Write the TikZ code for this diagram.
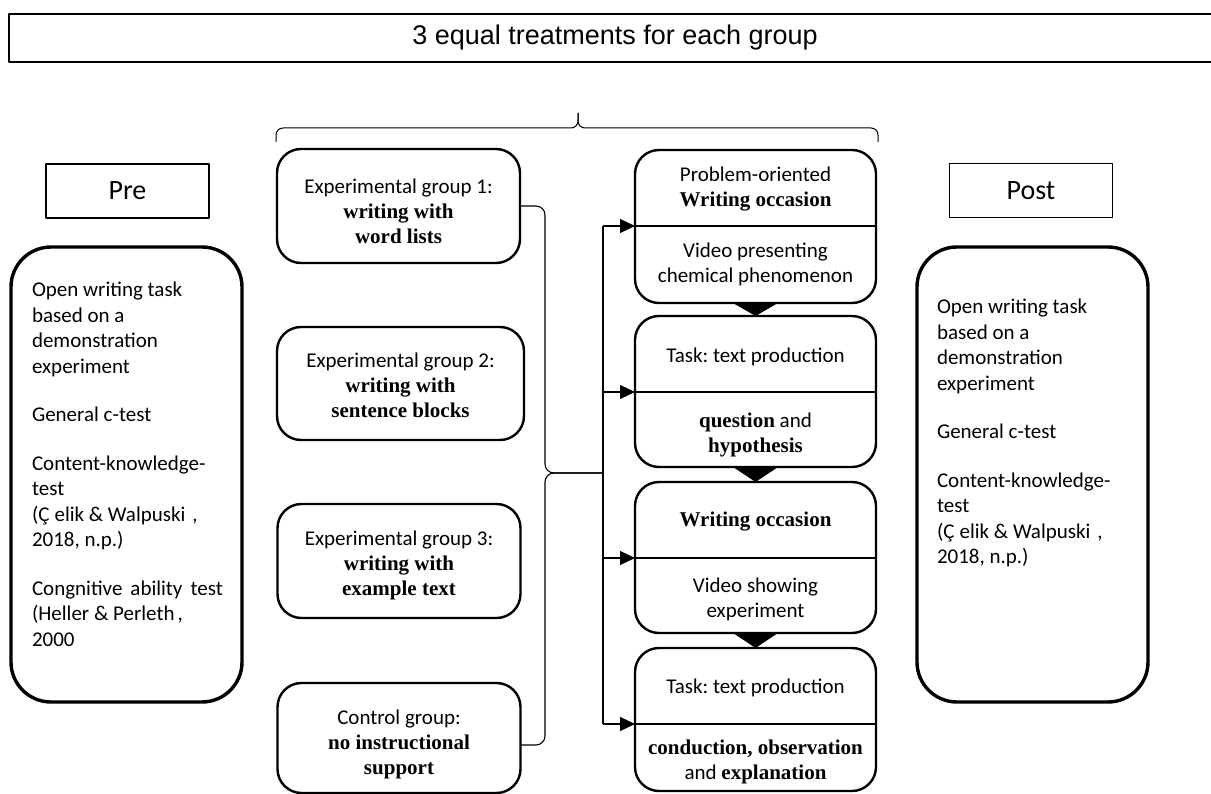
\documentclass[tikz,border=0pt]{standalone}
\usepackage{fontspec}
\setmainfont{Carlito}
\newfontfamily\tnr{Liberation Serif}
\newfontfamily\arialf{Liberation Sans}
\usetikzlibrary{arrows.meta}
\newcommand\bt[1]{{\tnr\bfseries #1}}
\frenchspacing

\begin{document}
\begin{tikzpicture}[x=1pt,y=-1pt, line join=round,
  every node/.style={inner sep=0pt, outer sep=0pt},
  txt/.style={font=\fontsize{21}{25}\selectfont, align=center},
  listtxt/.style={font=\fontsize{21}{25.5}\selectfont, align=left, anchor=north west},
  grp/.style={draw, line width=2.4pt, rounded corners=24pt, minimum width=243pt},
  stage/.style={draw, line width=2.4pt, rounded corners=24pt, minimum width=241pt},
  phase/.style={draw, line width=3.4pt, rounded corners=40pt, minimum width=231pt, minimum height=455pt},
  tag/.style={draw, line width=1.8pt, minimum width=163pt, minimum height=54pt, font=\fontsize{28}{32}\selectfont},
  link/.style={line width=1.1pt},
  feed/.style={link, -{Triangle[length=15pt,width=14pt]}},
  drop/.style={fill=black},
]
\useasboundingbox (0,0) rectangle (1211,794);

% headline (the frame runs past the right edge of the page)
\node[draw, line width=2.5pt, minimum width=1214pt, minimum height=48pt, anchor=west] (title) at (9,38) {};
\node[font=\arialf\fontsize{27}{30}\selectfont] (titletxt) at (615,38) {3 equal treatments for each group};

% pre and post phases
\node[tag] (pre) at (127.5,191) {Pre};
\node[tag] (post) at (1031,190.5) {Post};
\node[phase] (prebox) at (126.5,474.5) {};
\node[phase] (postbox) at (1032.5,474.5) {};

\node[listtxt] (prelist) at (32,282) {Open writing task\\based on a\\demonstration\\experiment\\[23pt]General c-test\\[23pt]Content-knowledge-\\test\\(Ç\hspace{5pt}elik \& Walpuski\hspace{7pt},\\2018, n.p.)\\[23pt]Congnitive\hspace{8pt}ability\hspace{8pt}test\\(Heller \& Perleth\hspace{3pt},\\2000};
\node[listtxt] (postlist) at (937,299) {Open writing task\\based on a\\demonstration\\experiment\\[23pt]General c-test\\[23pt]Content-knowledge-\\test\\(Ç\hspace{5pt}elik \& Walpuski\hspace{7pt},\\2018, n.p.)};

% groups
\node[grp, minimum height=114pt] (g1) at (398.5,206) {};
\node[grp, minimum height=113pt, minimum width=247pt] (g2) at (400.5,383.5) {};
\node[grp, minimum height=114pt] (g3) at (399,561) {};
\node[grp, minimum height=110pt] (g4) at (399,738) {};

\node[txt] (g1t) at (398.5,211) {Experimental group 1:\\\bt{writing with}\\\bt{word lists}};
\node[txt] (g2t) at (400.5,385) {Experimental group 2:\\\bt{writing with}\\\bt{sentence blocks}};
\node[txt] (g3t) at (399,565) {Experimental group 3:\\\bt{writing with}\\\bt{example text}};
\node[txt] (g4t) at (399,744) {Control group:\\\bt{no instructional}\\\bt{support}};

% treatment stages
\node[stage, minimum height=153pt] (s1) at (755.5,226.5) {};
\node[stage, minimum height=151pt] (s2) at (755.5,391.5) {};
\node[stage, minimum height=151pt] (s3) at (755.5,557.5) {};
\node[stage, minimum height=143pt] (s4) at (755.5,719.5) {};

\coordinate (d1) at (s1.west |- 0,226);
\coordinate (d2) at (s2.west |- 0,392);
\coordinate (d3) at (s3.west |- 0,558);
\coordinate (d4) at (s4.west |- 0,724);
\foreach \s/\d in {s1/d1,s2/d2,s3/d3,s4/d4}
  \draw[link] (\d) -- (\d -| \s.east);

\node[txt] (s1a) at (755.5,189) {Problem-oriented\\\bt{Writing occasion}};
\node[txt] (s1b) at (755.5,264.5) {Video presenting\\chemical phenomenon};
\node[txt] (s2a) at (755.5,357) {Task: text production};
\node[txt] (s2b) at (755.5,434.5) {\bt{question} and\\\bt{hypothesis}};
\node[txt] (s3a) at (755.5,522) {\bt{Writing occasion}};
\node[txt] (s3b) at (755.5,599.5) {Video showing\\experiment};
\node[txt] (s4a) at (755.5,688) {Task: text production};
\node[txt] (s4b) at (755.5,761.5) {\bt{conduction, observation}\\and \bt{explanation}};

% flow marks between stages
\foreach \a/\b in {s1/s2,s2/s3,s3/s4}
  \fill[drop] ([xshift=-22.5pt]\a.south) -- ([xshift=22.5pt]\a.south) -- (\b.north) -- cycle;

% brace over the groups and stages
\coordinate (bl) at (276,142);
\coordinate (br) at (878,142);
\coordinate (bmid) at (578,128);
\coordinate (tip) at (578,113);
\draw[line width=1pt, rounded corners=7pt] (bl) |- (bmid) -- (tip);
\draw[line width=1pt, rounded corners=7pt] (br) |- (bmid) -- (tip);

% side brace joining the groups
\coordinate (cusp) at (603,473);
\coordinate (low) at (g4.east |- 0,745);
\draw[link, rounded corners=9pt] (g1.east) -| (545,473) -- (cusp);
\draw[link, rounded corners=9pt] (low) -| (545,473) -- (cusp);

% distribution to the stages
\coordinate (sp1) at (603,226);
\coordinate (sp4) at (603,724);
\draw[link] (sp1) -- (sp4);
\draw[feed] (sp1) -- (d1);
\draw[feed] (603,392) -- (d2);
\draw[feed] (603,558) -- (d3);
\draw[feed] (sp4) -- (d4);
\end{tikzpicture}
\end{document}
